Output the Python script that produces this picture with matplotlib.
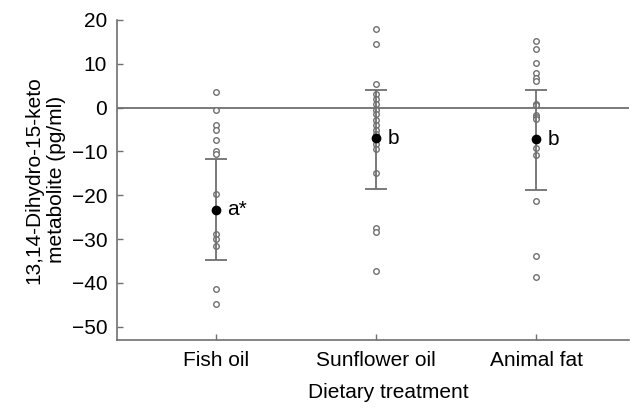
import matplotlib.pyplot as plt
import numpy as np

plt.rcParams['font.family'] = ['Liberation Sans', 'DejaVu Sans']

groups = ["Fish oil", "Sunflower oil", "Animal fat"]
fish_oil = [3.5, -0.5, -4, -5, -7.5, -10, -10.5, -19.8, -28.9, -30, -31.5, -41.3, -44.8]
sunflower_oil = [18, 14.6, 5.5, 3.2, 2, 0.8, -0.5, -1.5, -2.8, -4, -5, -6, -7.2, -8.2,
                 -9.5, -15, -27.5, -28.3, -37.2]
animal_fat = [15.2, 13.4, 10.1, 7.9, 6.8, 6, 0.9, 0.5, -1.6, -2.1, -2.7, -9.2, -10.8,
              -21.3, -33.9, -38.6]
means = [-23.3, -7.0, -7.2]
err_upper = [-11.8, 4.1, 4.1]
err_lower = [-34.8, -18.6, -18.8]
letters = ["a*", "b", "b"]

fs = 15

fig = plt.figure(figsize=(6.39, 4.08), dpi=100)
ax = fig.add_axes([0.183, 0.167, 0.802, 0.784])

grey = "#707070"
ax.axhline(0, color=grey, linewidth=1.3, zorder=1)

for i, vals in enumerate([fish_oil, sunflower_oil, animal_fat]):
    xpos = i + 1
    ax.scatter(np.full(len(vals), xpos), vals, s=16, facecolors="white",
               edgecolors=grey, linewidths=1.0, zorder=3)
    yerr = [[means[i] - err_lower[i]], [err_upper[i] - means[i]]]
    ax.errorbar(xpos, means[i], yerr=yerr, fmt="o", color="black", ms=6,
                ecolor=grey, elinewidth=1.3, capsize=8, capthick=1.3, zorder=4)
    ax.text(xpos + 0.07, means[i], letters[i], fontsize=fs, va="center", ha="left")

ax.set_xlim(0.383, 3.58)
ax.set_ylim(-53, 20)
ax.set_yticks(np.arange(-50, 21, 10))
ax.set_yticklabels([str(v).replace("-", "\u2212") for v in range(-50, 21, 10)])
ax.set_xticks([1, 2, 3])
ax.set_xticklabels(groups)
ax.tick_params(direction="in", length=4, color=grey, labelsize=fs, width=1)
ax.tick_params(axis="y", pad=7)
ax.tick_params(axis="x", pad=8)

for side in ["top", "right"]:
    ax.spines[side].set_visible(False)
for side in ["left", "bottom"]:
    ax.spines[side].set_color(grey)
    ax.spines[side].set_linewidth(1.2)

ax.set_xlabel("Dietary treatment", fontsize=fs)
ax.xaxis.set_label_coords(0.53, -0.135)
ax.set_ylabel("13,14-Dihydro-15-keto\nmetabolite (pg/ml)", fontsize=fs, labelpad=4,
              linespacing=1.25)

fig.savefig("out.png", dpi=100)
